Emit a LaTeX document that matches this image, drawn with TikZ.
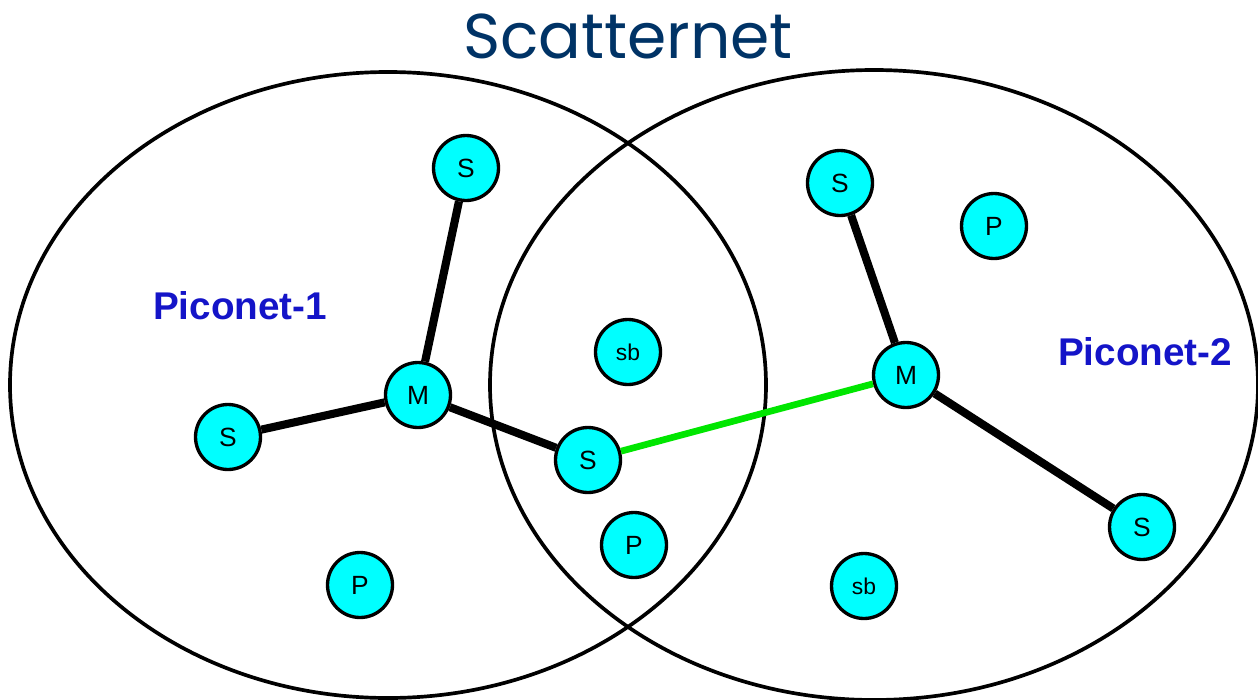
\documentclass[tikz,border=0pt]{standalone}
\usepackage{fontspec}
\setmainfont{Liberation Sans}
\newfontfamily\titlefont{Poppins}
\usepackage{tikz}
\usetikzlibrary{positioning}
\definecolor{titleblue}{RGB}{0,51,102}
\definecolor{netblue}{RGB}{20,20,200}
\definecolor{devcyan}{RGB}{0,255,255}
\definecolor{linkgreen}{RGB}{0,230,0}

\begin{document}
\begin{tikzpicture}[
  x=0.02cm, y=-0.02cm,
  dev/.style={circle, draw=black, line width=1.9pt, fill=devcyan,
              minimum size=1.3cm, inner sep=0pt, font=\fontsize{15}{15}\selectfont},
  small/.style={font=\fontsize{13}{13}\selectfont},
  link/.style={line width=4.6pt, black},
  bridge/.style={line width=3.8pt, linkgreen},
  netlabel/.style={text=netblue, font=\fontsize{22}{22}\selectfont\bfseries}]

  \useasboundingbox (0,0) rectangle (1258,700);

  % piconet boundaries
  \draw[line width=2.1pt] (388,385) ellipse [x radius=378, y radius=313];
  \draw[line width=2.1pt] (874,385) ellipse [x radius=384, y radius=315];

  \node[text=titleblue, font=\titlefont\fontsize{36}{36}\selectfont] (title) at (628,36) {Scatternet};

  \node[netlabel] (pn1) at (240,306) {Piconet-1};
  \node[netlabel] (pn2) at (1145,352) {Piconet-2};

  % devices
  \node[dev] (s1) at (466,168) {S};
  \node[dev] (m1) at (418,395) {M};
  \node[dev] (s2) at (228,437) {S};
  \node[dev] (s3) at (588,460) {S};
  \node[dev, small] (sb1) at (628,352) {sb};
  \node[dev] (p1) at (634,545) {P};
  \node[dev] (p2) at (360,585) {P};
  \node[dev] (s4) at (840,183) {S};
  \node[dev] (p3) at (994,226) {P};
  \node[dev] (m2) at (906,375) {M};
  \node[dev] (s5) at (1142,527) {S};
  \node[dev, small] (sb2) at (864,586) {sb};

  % links
  \draw[link] (s1) -- (m1);
  \draw[link] (s2) -- (m1);
  \draw[link] (m1) -- (s3);
  \draw[link] (s4) -- (m2);
  \draw[link] (m2) -- (s5);
  \draw[bridge] (s3) -- (m2);
\end{tikzpicture}
\end{document}
